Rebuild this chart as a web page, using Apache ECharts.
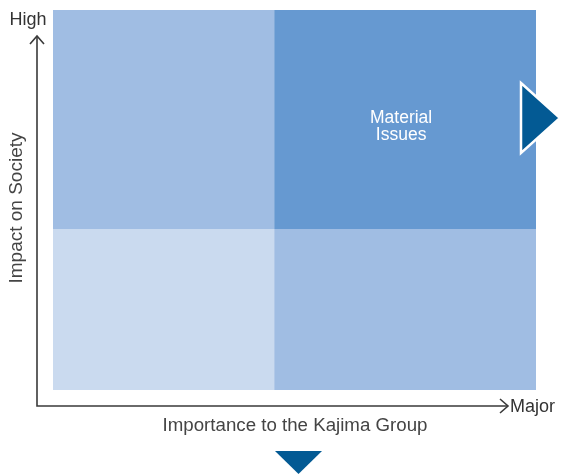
<!DOCTYPE html>
<html><head><meta charset="utf-8">
<script src="https://cdn.jsdelivr.net/npm/echarts@6/dist/echarts.min.js"></script>
<style>html,body{margin:0;padding:0;background:#fff}#c{width:561px;height:475px}</style>
</head><body><div id="c"></div>
<script>
// Quadrant extents in axis units (0..1 on each axis)
const quadX0 = [0, 0.458, 0, 0.458];
const quadX1 = [0.458, 1, 0.458, 1];
const quadY0 = [0.424, 0.424, 0, 0];
const quadY1 = [1, 1, 0.424, 0.424];
const quadLabels = ['', 'Material\nIssues', '', ''];
const quadColors = ['#a0bde3', '#6699d1', '#cadaef', '#a0bde3'];
const xAxisTitle = 'Importance to the Kajima Group';
const yAxisTitle = 'Impact on Society';
const yHighLabel = 'High';
const xMajorLabel = 'Major';

const data = quadX0.map((x, i) => ({ value: [x, quadY0[i], quadX1[i], quadY1[i]], label: quadLabels[i], color: quadColors[i] }));

const chart = echarts.init(document.getElementById('c'), null, { renderer: 'canvas' });
const font = 'Helvetica, Arial, "Liberation Sans", sans-serif';
chart.setOption({
  animation: false,
  grid: { left: 53, right: 25, top: 10, bottom: 85 },
  xAxis: { type: 'value', min: 0, max: 1, show: false },
  yAxis: { type: 'value', min: 0, max: 1, show: false },
  series: [{
    type: 'custom',
    data: data,
    renderItem: function (params, api) {
      const d = data[params.dataIndex];
      const p0 = api.coord([api.value(0), api.value(3)]);
      const p1 = api.coord([api.value(2), api.value(1)]);
      const children = [{
        type: 'rect',
        shape: { x: p0[0], y: p0[1], width: p1[0] - p0[0], height: p1[1] - p0[1] },
        style: { fill: d.color }
      }];
      if (d.label) {
        children.push({
          type: 'text',
          x: (p0[0] + p1[0]) / 2 - 4,
          y: p0[1] + 117,
          style: { text: d.label, fill: '#fff', font: '17.5px ' + font, align: 'center', verticalAlign: 'middle', lineHeight: 17 }
        });
      }
      return { type: 'group', children: children };
    }
  }],
  graphic: [
    { type: 'polyline', z: 100, shape: { points: [[37, 36], [37, 406], [508, 406]] }, style: { stroke: '#3a3a3a', lineWidth: 1.6, fill: null } },
    { type: 'polyline', z: 100, shape: { points: [[30, 44], [37, 36], [44, 44]] }, style: { stroke: '#3a3a3a', lineWidth: 1.6, fill: null } },
    { type: 'polyline', z: 100, shape: { points: [[500, 399], [508, 406], [500, 413]] }, style: { stroke: '#3a3a3a', lineWidth: 1.6, fill: null } },
    { type: 'text', z: 100, x: 28, y: 20, style: { text: yHighLabel, fill: '#333', font: '18px ' + font, align: 'center', verticalAlign: 'middle' } },
    { type: 'text', z: 100, x: 510, y: 407, style: { text: xMajorLabel, fill: '#333', font: '18px ' + font, align: 'left', verticalAlign: 'middle' } },
    { type: 'text', z: 100, x: 295, y: 426, style: { text: xAxisTitle, fill: '#444', font: '18.7px ' + font, align: 'center', verticalAlign: 'middle' } },
    { type: 'text', z: 100, x: 17, y: 208, rotation: Math.PI / 2, style: { text: yAxisTitle, fill: '#444', font: '19px ' + font, align: 'center', verticalAlign: 'middle' } },
    { type: 'polygon', z: 100, shape: { points: [[521, 83], [560, 118], [521, 153]] }, style: { fill: '#035a94', stroke: '#fff', lineWidth: 2.5 } },
    { type: 'polygon', z: 100, shape: { points: [[275, 451], [322, 451], [298.5, 474]] }, style: { fill: '#035a94' } }
  ]
});
</script></body></html>
